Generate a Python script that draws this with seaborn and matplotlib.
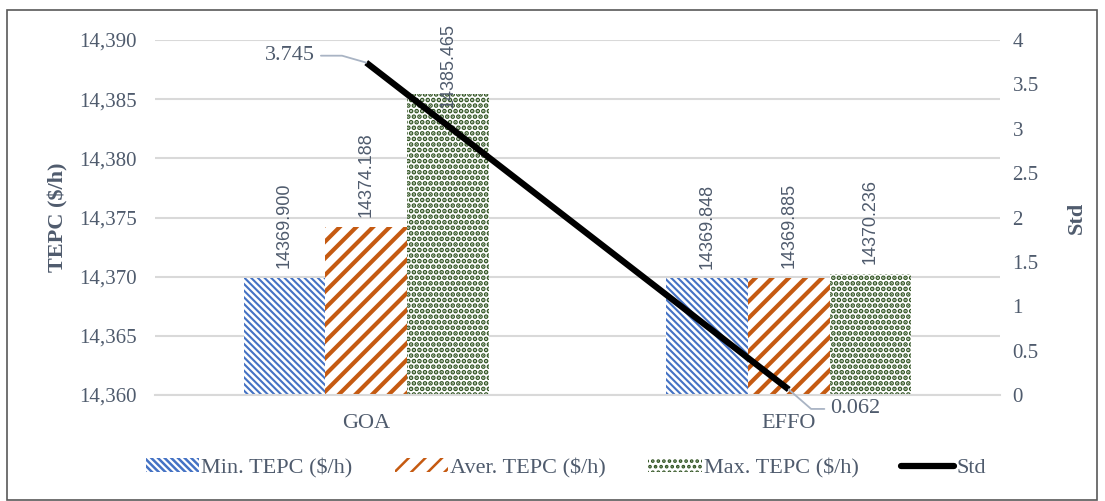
import matplotlib
matplotlib.use("Agg")
import matplotlib.pyplot as plt
import matplotlib.ticker as mticker
from matplotlib.patches import Rectangle
from matplotlib.lines import Line2D
import numpy as np
import pandas as pd
import seaborn as sns

# ---- data ----
algorithms = ["GOA", "EFFO"]
series_names = ["Min. TEPC ($/h)", "Aver. TEPC ($/h)", "Max. TEPC ($/h)"]
min_tepc = [14369.900, 14369.848]
aver_tepc = [14374.188, 14369.885]
max_tepc = [14385.465, 14370.236]
std_vals = [3.745, 0.062]

colors = ["#4472C4", "#C55A11", "#2F5220"]
hatches = ["\\\\\\\\\\", "//", "..."]
hatch_lw = [1.5, 3.0, 2.4]
text_col = "#4F5B6D"
grid_col = "#D9D9D9"

df = pd.DataFrame({
    "Algorithm": algorithms * 3,
    "Series": [s for s in series_names for _ in algorithms],
    "TEPC": min_tepc + aver_tepc + max_tepc,
})

sns.set_theme(style="white")
plt.rcParams["font.family"] = ["Liberation Serif", "DejaVu Serif"]
plt.rcParams["hatch.linewidth"] = 1.8

fig = plt.figure(figsize=(11.05, 5.01), dpi=100)
ax = fig.add_axes([155 / 1105, 1 - 395 / 501, 845 / 1105, 355 / 501])

sns.barplot(data=df, x="Algorithm", y="TEPC", hue="Series", order=algorithms,
            hue_order=series_names, palette=colors, width=0.58,
            errorbar=None, ax=ax, legend=False)

ymin, ymax = 14360, 14390
for cont, col, h, hl in zip(ax.containers, colors, hatches, hatch_lw):
    for p in cont:
        p.set_facecolor("white")
        p.set_edgecolor(col)
        p.set_linewidth(0)
        p.set_hatch(h)
        if hasattr(p, "set_hatch_linewidth"):
            p.set_hatch_linewidth(hl)
    labels = ax.bar_label(cont, fmt="{:.3f}", rotation=90, padding=7,
                          color=text_col, fontsize=13,
                          family=["Liberation Sans", "DejaVu Sans"])
    # labels on bars close to the top are pulled down so they stay inside
    for p, t in zip(cont, labels):
        if p.get_height() > ymin + 0.75 * (ymax - ymin):
            t.xyann = (0, -10)

ax.set_xlim(-0.5, 1.5)
ax.set_ylim(ymin, ymax)
ax.set_yticks(np.arange(ymin, ymax + 1, 5))
ax.yaxis.set_major_formatter(mticker.FuncFormatter(lambda v, _: f"{v:,.0f}"))
ax.grid(axis="y", color=grid_col, lw=1.5)
ax.set_axisbelow(True)
for s in ["left", "right", "top"]:
    ax.spines[s].set_visible(False)
ax.spines["bottom"].set_color(grid_col)
ax.spines["bottom"].set_linewidth(1.5)
ax.tick_params(axis="y", length=0, pad=13, labelsize=15, labelcolor=text_col)
ax.tick_params(axis="x", length=0, pad=14, labelsize=16, labelcolor=text_col)
ax.set_xlabel("")
ax.set_ylabel("TEPC ($/h)", fontsize=16, fontweight="bold", color=text_col, labelpad=8)

# ---- Std on secondary axis ----
ax2 = ax.twinx()
sns.lineplot(x=[0, 1], y=std_vals, ax=ax2, color="black", lw=4.5,
             solid_capstyle="butt")
ax2.set_ylim(0, 4)
ax2.set_yticks(np.arange(0, 4.01, 0.5))
ax2.yaxis.set_major_formatter(mticker.FuncFormatter(lambda v, _: f"{v:g}"))
for s in ["left", "right", "top", "bottom"]:
    ax2.spines[s].set_visible(False)
ax2.tick_params(axis="y", length=0, pad=9, labelsize=15, labelcolor=text_col)
ax2.set_ylabel("Std", fontsize=16, fontweight="bold", color=text_col, labelpad=20)
ax2.grid(False)

leader = dict(arrowstyle="-", color="#A9B4C4", lw=1.3, shrinkA=2, shrinkB=0)
ax2.annotate(f"{std_vals[0]:.3f}", xy=(0, std_vals[0]), xytext=(-37, 5),
             textcoords="offset points", ha="right", va="center", fontsize=16,
             color=text_col,
             arrowprops=dict(**leader, connectionstyle="angle,angleA=0,angleB=-16,rad=0"))
ax2.annotate(f"{std_vals[1]:.3f}", xy=(1, std_vals[1]), xytext=(30, -14),
             textcoords="offset points", ha="left", va="center", fontsize=16,
             color=text_col,
             arrowprops=dict(**leader, connectionstyle="angle,angleA=0,angleB=-41,rad=0"))

# ---- legend ----
handles = [c.patches[0] for c in ax.containers]
handles.append(Line2D([0], [0], color="black", lw=4.5))
labels = series_names + ["Std"]
fig.legend(handles, labels, loc="center", bbox_to_anchor=(566 / 1105, 1 - 468 / 501),
           ncol=4, frameon=False, fontsize=16, labelcolor=text_col,
           handlelength=2.4, handleheight=0.55, handletextpad=0.1,
           columnspacing=1.9)

# chart border
fig.add_artist(Rectangle((7 / 1105, 1 / 501), 1090 / 1105, 490 / 501,
                         transform=fig.transFigure, fill=False,
                         edgecolor="#595959", lw=1.2))

fig.savefig("out.png", dpi=100)
